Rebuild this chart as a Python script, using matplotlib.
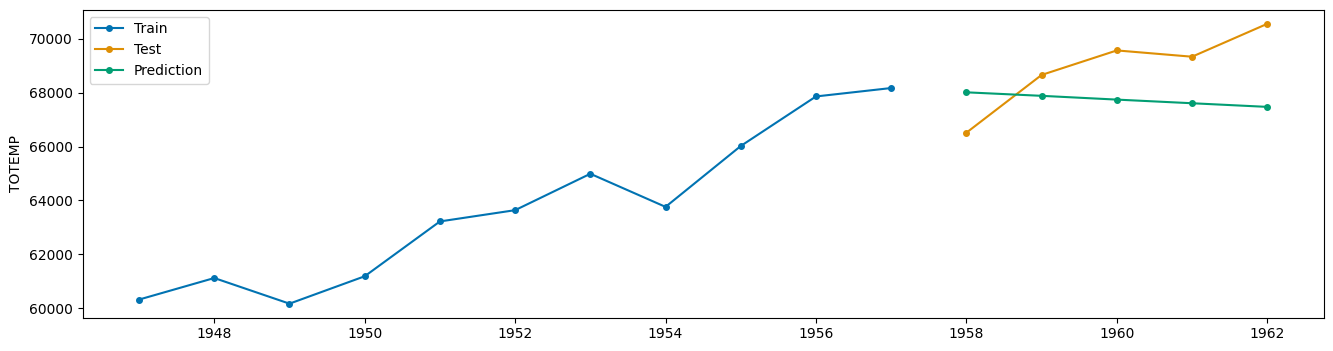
import matplotlib.pyplot as plt

# longley TOTEMP
train_years = [1947, 1948, 1949, 1950, 1951, 1952, 1953, 1954, 1955, 1956, 1957]
train_vals = [60323, 61122, 60171, 61187, 63221, 63639, 64989, 63761, 66019, 67857, 68169]
test_years = [1958, 1959, 1960, 1961, 1962]
test_vals = [66513, 68655, 69564, 69331, 70551]
pred_vals = [68010, 67880, 67740, 67605, 67470]

colors = ['#0173b2', '#de8f05', '#029e73']

fig, ax = plt.subplots(figsize=(13.33, 3.51), dpi=100)
ax.plot(train_years, train_vals, marker='o', markersize=4, color=colors[0], label='Train')
ax.plot(test_years, test_vals, marker='o', markersize=4, color=colors[1], label='Test')
ax.plot(test_years, pred_vals, marker='o', markersize=4, color=colors[2], label='Prediction')
ax.set_ylabel('TOTEMP')
ax.set_xticks(range(1948, 1963, 2))
ax.legend(loc='upper left')
fig.subplots_adjust(left=0.062, right=0.993, top=0.972, bottom=0.095)
fig.savefig('out.png')
